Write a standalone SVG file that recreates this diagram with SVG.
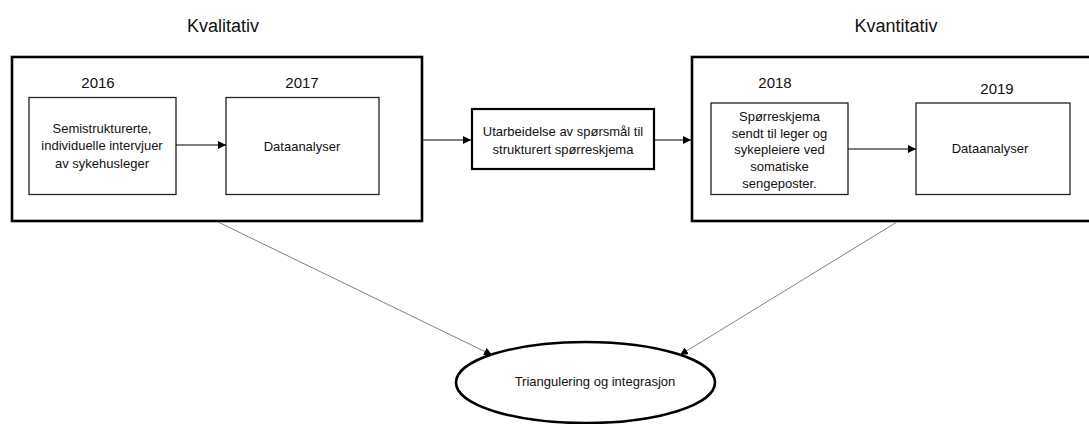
<svg xmlns="http://www.w3.org/2000/svg" width="1089" height="424" viewBox="0 0 1089 424">
<style>
text{font-family:"Liberation Sans",Arial,sans-serif;fill:#111;text-anchor:middle}
.h{font-size:18px}
.y{font-size:15px}
.t{font-size:13px}
.outer{fill:#fff;stroke:#000;stroke-width:2.6}
.inner{fill:#fff;stroke:#222;stroke-width:1.3}
.mid{fill:#fff;stroke:#000;stroke-width:2.2}
.c{stroke:#000;stroke-width:1;fill:none}
.d{stroke:#808080;stroke-width:1;fill:none}
</style>
<defs>
<marker id="ah" viewBox="0 0 8 8" refX="8" refY="4" markerWidth="8" markerHeight="8" markerUnits="userSpaceOnUse" orient="auto">
<path d="M0,0 L8,4 L0,8 Z" fill="#000"/>
</marker>
</defs>
<rect width="1089" height="424" fill="#fff"/>
<g id="title-left"><text class="h" x="223" y="32">Kvalitativ</text></g>
<g id="title-right"><text class="h" x="896" y="32">Kvantitativ</text></g>
<g id="kvalitativ">
<rect class="outer" x="12" y="57" width="410" height="164"/>
<text class="y" x="98" y="87.5">2016</text>
<text class="y" x="302" y="87.5">2017</text>
</g>
<g id="kvantitativ">
<rect class="outer" x="692" y="57" width="410" height="164"/>
<text class="y" x="775" y="87.5">2018</text>
<text class="y" x="997" y="93.5">2019</text>
</g>
<g id="intervjuer">
<rect class="inner" x="29" y="97.5" width="147" height="97"/>
<text class="t" x="102" y="132.5">Semistrukturerte,</text>
<text class="t" x="102" y="150">individuelle intervjuer</text>
<text class="t" x="102" y="167.5">av sykehusleger</text>
</g>
<g id="dataanalyser1">
<rect class="inner" x="226" y="97.5" width="153" height="97"/>
<text class="t" x="302" y="150.5">Dataanalyser</text>
</g>
<g id="utarbeidelse">
<rect class="mid" x="472" y="109" width="182" height="60"/>
<text class="t" x="563" y="136">Utarbeidelse av spørsmål til</text>
<text class="t" x="563" y="154">strukturert spørreskjema</text>
</g>
<g id="sporreskjema">
<rect class="inner" x="711" y="103" width="137" height="91.5"/>
<text class="t" x="779.5" y="120.5">Spørreskjema</text>
<text class="t" x="779.5" y="137.5">sendt til leger og</text>
<text class="t" x="779.5" y="154">sykepleiere ved</text>
<text class="t" x="779.5" y="170.5">somatiske</text>
<text class="t" x="779.5" y="187.5">sengeposter.</text>
</g>
<g id="dataanalyser2">
<rect class="inner" x="916" y="103" width="154" height="91.5"/>
<text class="t" x="990" y="152.5">Dataanalyser</text>
</g>
<g id="triangulering">
<ellipse cx="585.5" cy="382.5" rx="129.5" ry="40.5" fill="#fff" stroke="#000" stroke-width="2.6"/>
<text class="t" x="595" y="386">Triangulering og integrasjon</text>
</g>
<g id="connectors">
<line class="c" x1="176" y1="145" x2="226" y2="145" marker-end="url(#ah)"/>
<line class="c" x1="423" y1="140" x2="471" y2="140" marker-end="url(#ah)"/>
<line class="c" x1="655" y1="140" x2="691" y2="140" marker-end="url(#ah)"/>
<line class="c" x1="848" y1="149" x2="916" y2="149" marker-end="url(#ah)"/>
<line class="d" x1="218" y1="222" x2="492" y2="355" marker-end="url(#ah)"/>
<line class="d" x1="897" y1="222" x2="680" y2="355" marker-end="url(#ah)"/>
</g>
</svg>
